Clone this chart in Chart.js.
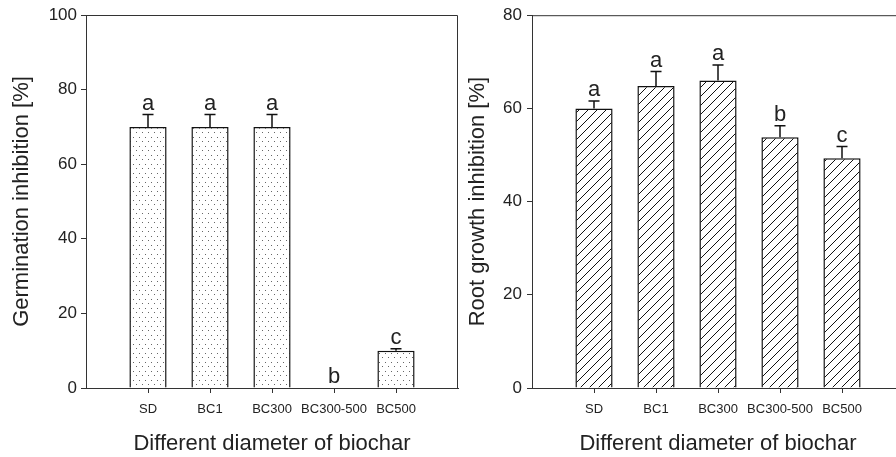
<!DOCTYPE html>
<html>
<head>
<meta charset="utf-8">
<script src="https://cdn.jsdelivr.net/npm/chart.js@4/dist/chart.umd.min.js"></script>
<style>
  html, body { margin: 0; padding: 0; background: #fff; width: 896px; height: 457px; overflow: hidden; position: relative; }
  canvas { position: absolute; top: 0; }
  #germ { left: 0; }
  #root { left: 446px; }
</style>
</head>
<body>
<canvas id="germ" width="470" height="457"></canvas>
<canvas id="root" width="470" height="457"></canvas>
<script>
// data
const categories = ["SD", "BC1", "BC300", "BC300-500", "BC500"];
const germValues = [70, 70, 70, 0, 10];
const germErrors = [3.3, 3.3, 3.3, 0, 0.5];
const germLetters = ["a", "a", "a", "b", "c"];
const rootValues = [60.0, 64.8, 66.0, 53.8, 49.3];
const rootErrors = [1.6, 3.1, 3.3, 2.5, 2.5];
const rootLetters = ["a", "a", "a", "b", "c"];
const germTicks = [0, 20, 40, 60, 80, 100];
const rootTicks = [0, 20, 40, 60, 80];

const FONT = "'Liberation Sans', Arial, sans-serif";
const INK = "#222";

function dotPattern() {
  const c = document.createElement("canvas");
  c.width = 6; c.height = 9;
  const g = c.getContext("2d");
  g.fillStyle = "#fff";
  g.fillRect(0, 0, 6, 9);
  g.fillStyle = "#666";
  g.fillRect(1, 2, 1, 1);
  g.fillRect(4, 6, 1, 1);
  return g.createPattern(c, "repeat");
}

function hatchPattern() {
  const c = document.createElement("canvas");
  c.width = 9; c.height = 9;
  const g = c.getContext("2d");
  g.fillStyle = "#fff";
  g.fillRect(0, 0, 9, 9);
  g.strokeStyle = "#111";
  g.lineWidth = 1;
  g.beginPath();
  g.moveTo(-1, 10); g.lineTo(10, -1);
  g.moveTo(-1, 1); g.lineTo(1, -1);
  g.moveTo(8, 10); g.lineTo(10, 8);
  g.stroke();
  return g.createPattern(c, "repeat");
}

// pad the category axis with an empty slot on each side, like the original
const padded = arr => [null, ...arr, null];

// frame on top and right
const framePlugin = {
  id: "frame",
  afterDraw(chart) {
    const { ctx, chartArea: a } = chart;
    ctx.save();
    ctx.strokeStyle = "#333";
    ctx.lineWidth = 1;
    ctx.beginPath();
    ctx.moveTo(a.left, a.top + 0.5);
    ctx.lineTo(a.right - 0.5, a.top + 0.5);
    ctx.lineTo(a.right - 0.5, a.bottom);
    ctx.stroke();
    ctx.restore();
  }
};

// upper error bars and significance letters
const errorPlugin = {
  id: "errors",
  afterDatasetsDraw(chart, args, opts) {
    const { ctx } = chart;
    const y = chart.scales.y;
    const meta = chart.getDatasetMeta(0);
    ctx.save();
    ctx.strokeStyle = "#111";
    ctx.lineWidth = 1.5;
    ctx.fillStyle = INK;
    ctx.font = "22px " + FONT;
    ctx.textAlign = "center";
    ctx.textBaseline = "alphabetic";
    opts.values.forEach((v, i) => {
      const el = meta.data[i + 1];
      const x = el.x;
      const yv = y.getPixelForValue(v);
      const ye = y.getPixelForValue(v + opts.errors[i]);
      if (opts.errors[i] > 0) {
        ctx.beginPath();
        ctx.moveTo(x, yv);
        ctx.lineTo(x, ye);
        ctx.moveTo(x - 5.5, ye);
        ctx.lineTo(x + 5.5, ye);
        ctx.stroke();
      }
      ctx.fillText(opts.letters[i], x, ye - 5);
    });
    ctx.restore();
  }
};

function makeChart(id, values, errors, letters, ticks, yTitle, fill, titlePad, tickPad) {
  const labels = ["", ...categories, ""];
  return new Chart(document.getElementById(id), {
    type: "bar",
    data: {
      labels: labels,
      datasets: [{
        data: padded(values),
        backgroundColor: fill,
        borderColor: "#111",
        borderWidth: 1.5,
        borderSkipped: "bottom",
        categoryPercentage: 1,
        barPercentage: 0.6
      }]
    },
    options: {
      responsive: false,
      animation: false,
      layout: { padding: { top: 15, right: 12, bottom: 0, left: 0 } },
      plugins: {
        legend: { display: false },
        tooltip: { enabled: false },
        errors: { values: values, errors: errors, letters: letters }
      },
      scales: {
        x: {
          offset: false,
          grid: {
            offset: false,
            drawOnChartArea: false,
            tickLength: 5,
            color: c => (labels[c.index] ? "#333" : "rgba(0,0,0,0)")
          },
          border: { color: "#333", width: 1 },
          ticks: {
            autoSkip: false,
            maxRotation: 0,
            padding: 9,
            color: INK,
            font: { family: FONT, size: 13 }
          },
          title: {
            display: true,
            text: "Different diameter of biochar",
            color: INK,
            font: { family: FONT, size: 22 },
            padding: { top: 0, bottom: 0 }
          },
          afterFit: s => { s.height = 69; }
        },
        y: {
          min: ticks[0],
          max: ticks[ticks.length - 1],
          afterBuildTicks: s => { s.ticks = ticks.map(v => ({ value: v })); },
          grid: { drawOnChartArea: false, tickLength: 5, color: "#333" },
          border: { color: "#333", width: 1 },
          ticks: {
            padding: tickPad,
            color: INK,
            font: { family: FONT, size: 17 }
          },
          title: {
            display: true,
            text: yTitle,
            color: INK,
            font: { family: FONT, size: 22 },
            padding: { top: titlePad, bottom: 0 }
          },
          afterFit: s => { s.width = 86; }
        }
      }
    },
    plugins: [framePlugin, errorPlugin]
  });
}

makeChart("germ", germValues, germErrors, germLetters, germTicks,
  "Germination inhibition [%]", dotPattern(), 9, 4);
makeChart("root", rootValues, rootErrors, rootLetters, rootTicks,
  "Root growth inhibition [%]", hatchPattern(), 19, 5);
</script>
</body>
</html>
